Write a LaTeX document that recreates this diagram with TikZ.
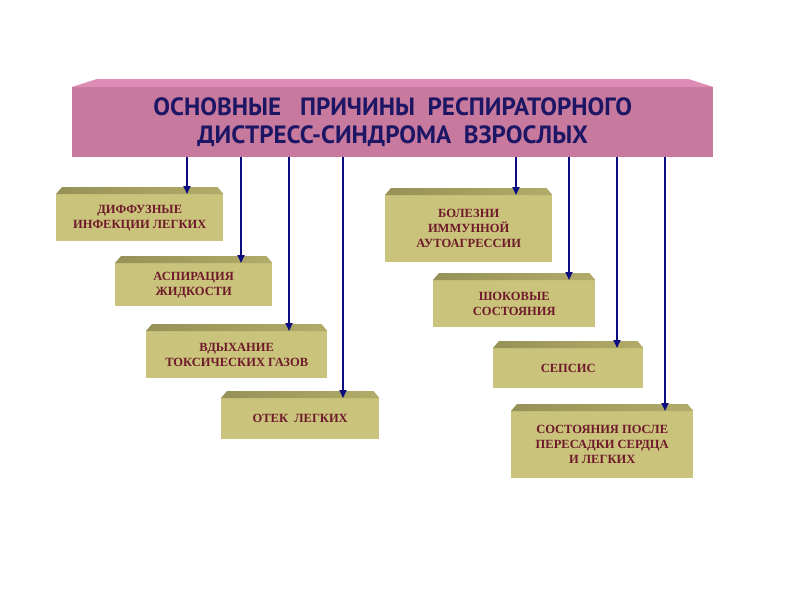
\documentclass[tikz,border=0pt]{standalone}
\usepackage{fontspec}
\setmainfont{Liberation Serif}
\newfontfamily\titlefont{PT Sans}
\usetikzlibrary{arrows.meta}
\definecolor{titlefront}{RGB}{200,121,158}
\definecolor{titletop}{RGB}{222,140,182}
\definecolor{boxfront}{RGB}{202,195,123}
\definecolor{boxtopA}{RGB}{150,145,86}
\definecolor{boxtopB}{RGB}{178,172,106}
\definecolor{titletext}{RGB}{28,22,100}
\definecolor{boxtext}{RGB}{110,26,42}
\definecolor{arrowblue}{RGB}{12,12,128}
\newcommand\mkbox[6]{%
  \node[causebox, minimum width=#4pt, minimum height=#5pt] (#1) at (#2,#3) {#6};
  \shade[left color=boxtopA, right color=boxtopB] (#1.north west) -- ([xshift=6pt,yshift=7pt]#1.north west) -- ([xshift=-6pt,yshift=7pt]#1.north east) -- (#1.north east) -- cycle;
}
\begin{document}
\begin{tikzpicture}[x=1pt,y=-1pt,
  causebox/.style={fill=boxfront, draw=none, inner sep=0pt, anchor=north west, align=center,
    font=\bfseries\fontsize{12.5}{15}\selectfont, text=boxtext},
  titlebox/.style={fill=titlefront, draw=none, inner sep=0pt, anchor=north west, align=center,
    font=\titlefont\bfseries\fontsize{25}{28}\selectfont, text=titletext},
  conn/.style={draw=arrowblue, line width=1.8pt, -{Triangle[length=8pt,width=7pt]}},
]
\useasboundingbox[fill=white] (0,0) rectangle (800,600);

\node[titlebox, minimum width=641pt, minimum height=70pt] (title) at (72,87)
  {ОСНОВНЫЕ\ \ \ ПРИЧИНЫ\ \ РЕСПИРАТОРНОГО\\ДИСТРЕСС-СИНДРОМА\ \ ВЗРОСЛЫХ};
\fill[titletop] (title.north west) -- ([xshift=25pt,yshift=8pt]title.north west)
  -- ([xshift=-25pt,yshift=8pt]title.north east) -- (title.north east) -- cycle;

\mkbox{A}{56}{194}{167}{47}{ДИФФУЗНЫЕ\\ИНФЕКЦИИ ЛЕГКИХ}
\mkbox{B}{115}{263}{157}{43}{АСПИРАЦИЯ\\ЖИДКОСТИ}
\mkbox{C}{146}{331}{181}{47}{ВДЫХАНИЕ\\ТОКСИЧЕСКИХ ГАЗОВ}
\mkbox{D}{221}{398}{158}{41}{ОТЕК\ \ ЛЕГКИХ}
\mkbox{E}{385}{195}{167}{67}{БОЛЕЗНИ\\ИММУННОЙ\\АУТОАГРЕССИИ}
\mkbox{F}{433}{280}{162}{47}{ШОКОВЫЕ\\СОСТОЯНИЯ}
\mkbox{G}{493}{348}{150}{40}{СЕПСИС}
\mkbox{H}{511}{411}{182}{67}{СОСТОЯНИЯ ПОСЛЕ\\ПЕРЕСАДКИ СЕРДЦА\\И ЛЕГКИХ}

\coordinate (xA) at (187,0);
\coordinate (xB) at (241,0);
\coordinate (xC) at (289,0);
\coordinate (xD) at (343,0);
\coordinate (xE) at (516,0);
\coordinate (xF) at (569,0);
\coordinate (xG) at (617,0);
\coordinate (xH) at (665,0);
\foreach \n in {A,B,C,D,E,F,G,H}
  \draw[conn] (title.south -| x\n) -- (\n.north -| x\n);
\end{tikzpicture}
\end{document}
